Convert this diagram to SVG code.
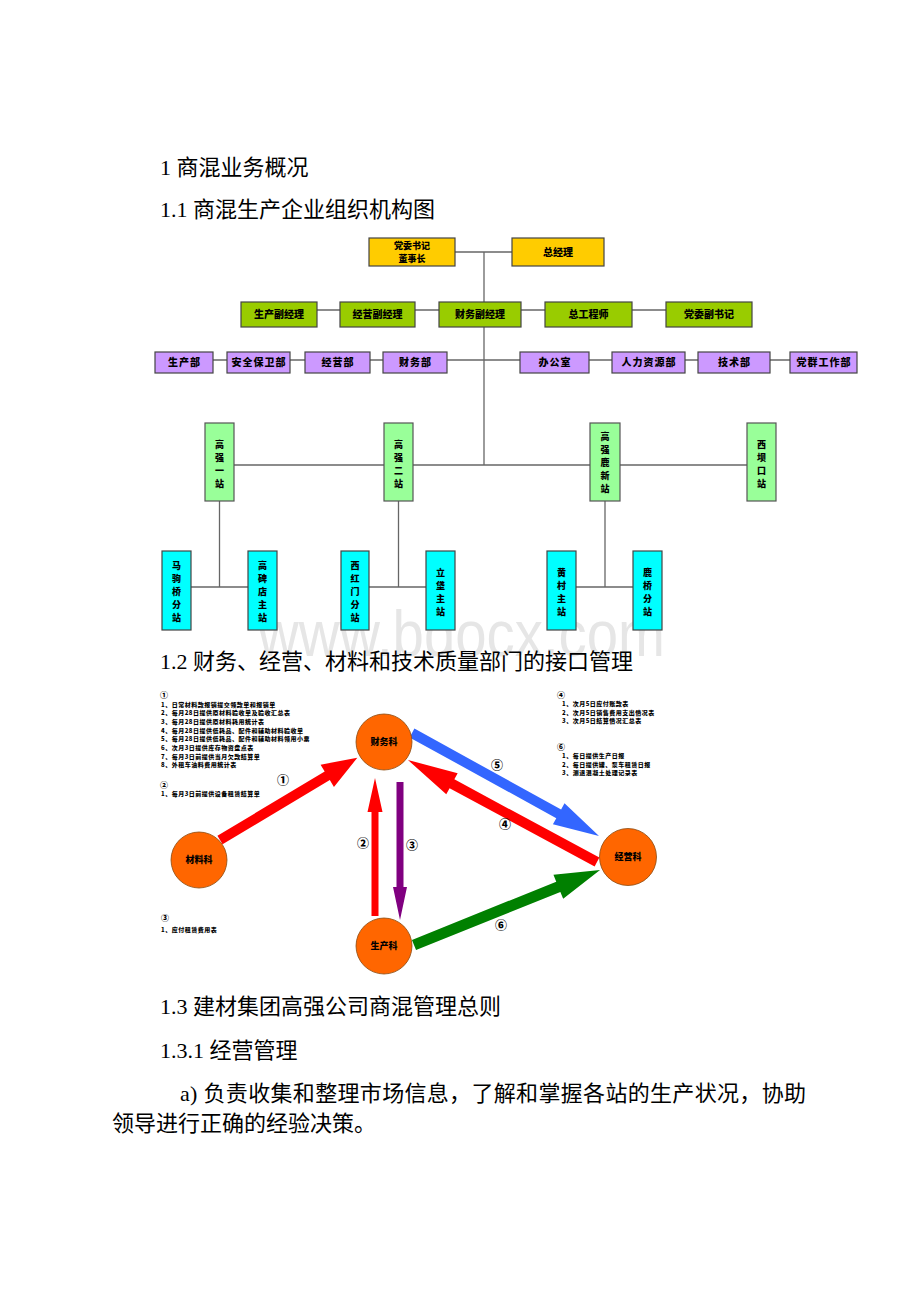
<svg xmlns="http://www.w3.org/2000/svg" width="920" height="1302" viewBox="0 0 920 1302">
<style>
.h{font-family:"Liberation Serif","Noto Sans CJK SC",serif;font-size:22px;fill:#000}
.b{font-family:"Noto Sans CJK SC",sans-serif;font-weight:900;font-size:10px;fill:#000;text-anchor:middle}
.b9{font-family:"Noto Sans CJK SC",sans-serif;font-weight:900;font-size:9px;fill:#000;text-anchor:middle}
.bs{font-family:"Noto Sans CJK SC",sans-serif;font-weight:900;font-size:10px;fill:#000;text-anchor:middle;letter-spacing:1px}
.v{font-family:"Noto Sans CJK SC",sans-serif;font-weight:900;font-size:9px;fill:#000;text-anchor:middle}
.s{font-family:"Noto Sans CJK SC",sans-serif;font-weight:900;font-size:6px;fill:#000;letter-spacing:0.5px}
.n{font-family:"Noto Sans CJK SC",sans-serif;font-weight:900;font-size:8px;fill:#000}
.lbl{font-family:"Noto Sans CJK SC",sans-serif;font-weight:900;font-size:12px;fill:#000;text-anchor:middle}
.c{font-family:"Noto Sans CJK SC",sans-serif;font-weight:900;font-size:9px;fill:#000;text-anchor:middle}
.y{fill:#FFCC00;stroke:#444;stroke-width:1.2}
.g{fill:#99CC00;stroke:#444;stroke-width:1.2}
.p{fill:#CC99FF;stroke:#444;stroke-width:1.2}
.lg{fill:#99FF99;stroke:#555;stroke-width:1.2}
.cy{fill:#00FFFF;stroke:#444;stroke-width:1.2}
.ln{stroke:#666;stroke-width:1.3;fill:none}
.circ{fill:#FF6600;stroke:#8a4a10;stroke-width:0.8}
</style>

<text x="258" y="656" font-family="Liberation Sans,Arial,sans-serif" font-size="64" fill="#e6e6e6" textLength="407" lengthAdjust="spacingAndGlyphs">www.bdocx.com</text>

<text class="h" x="160" y="175">1 商混业务概况</text>
<text class="h" x="160" y="217">1.1 商混生产企业组织机构图</text>
<text class="h" x="160" y="669">1.2 财务、经营、材料和技术质量部门的接口管理</text>
<text class="h" x="160" y="1014">1.3 建材集团高强公司商混管理总则</text>
<text class="h" x="160" y="1058">1.3.1 经营管理</text>
<text class="h" x="180" y="1101" textLength="626" lengthAdjust="spacing">a) 负责收集和整理市场信息，了解和掌握各站的生产状况，协助</text>
<text class="h" x="112" y="1131">领导进行正确的经验决策。</text>

<g id="connectors">
<line class="ln" x1="455" y1="252" x2="512" y2="252"/>
<line class="ln" x1="484" y1="252" x2="484" y2="465"/>
<line class="ln" x1="241" y1="310" x2="752" y2="310"/>
<line class="ln" x1="155" y1="360" x2="857" y2="360"/>
<line class="ln" x1="205" y1="465" x2="776" y2="465"/>
<line class="ln" x1="219.5" y1="501" x2="219.5" y2="587"/>
<line class="ln" x1="191" y1="587" x2="248" y2="587"/>
<line class="ln" x1="398.5" y1="501" x2="398.5" y2="587"/>
<line class="ln" x1="369" y1="587" x2="426" y2="587"/>
<line class="ln" x1="605" y1="501" x2="605" y2="587"/>
<line class="ln" x1="576" y1="587" x2="633" y2="587"/>
</g>

<g id="n-dwsj"><rect class="y" x="369" y="238" width="86" height="28"/><text class="b9" x="412" y="248.8">党委书记</text><text class="b9" x="412" y="261.8">董事长</text></g>
<g id="n-zjl"><rect class="y" x="512" y="238" width="92" height="28"/><text class="b" x="558" y="255.5">总经理</text></g>

<g id="n-scfjl"><rect class="g" x="241" y="302" width="76" height="25"/><text class="b" x="279" y="318">生产副经理</text></g>
<g id="n-jyfjl"><rect class="g" x="340" y="302" width="75" height="25"/><text class="b" x="377.5" y="318">经营副经理</text></g>
<g id="n-cwfjl"><rect class="g" x="439" y="302" width="82" height="25"/><text class="b" x="480" y="318">财务副经理</text></g>
<g id="n-zgcs"><rect class="g" x="545" y="302" width="87" height="25"/><text class="b" x="588.5" y="318">总工程师</text></g>
<g id="n-dwfsj"><rect class="g" x="666" y="302" width="86" height="25"/><text class="b" x="709" y="318">党委副书记</text></g>

<g id="n-scb"><rect class="p" x="155" y="352" width="58" height="21"/><text class="bs" x="184.5" y="366">生产部</text></g>
<g id="n-aqbwb"><rect class="p" x="227" y="352" width="63" height="21"/><text class="bs" x="259" y="366">安全保卫部</text></g>
<g id="n-jyb"><rect class="p" x="305" y="352" width="65" height="21"/><text class="bs" x="338" y="366">经营部</text></g>
<g id="n-cwb"><rect class="p" x="383" y="352" width="64" height="21"/><text class="bs" x="415.5" y="366">财务部</text></g>
<g id="n-bgs"><rect class="p" x="520" y="352" width="69" height="21"/><text class="bs" x="555" y="366">办公室</text></g>
<g id="n-rlzyb"><rect class="p" x="612" y="352" width="73" height="21"/><text class="bs" x="649" y="366">人力资源部</text></g>
<g id="n-jsb"><rect class="p" x="698" y="352" width="72" height="21"/><text class="bs" x="734.5" y="366">技术部</text></g>
<g id="n-dqgzb"><rect class="p" x="790" y="352" width="67" height="21"/><text class="bs" x="824" y="366">党群工作部</text></g>

<g id="n-gq1"><rect class="lg" x="205" y="423" width="29" height="78"/>
<text class="v" x="219.5" y="447.5">高</text><text class="v" x="219.5" y="460.5">强</text><text class="v" x="219.5" y="473.5">一</text><text class="v" x="219.5" y="486.5">站</text></g>
<g id="n-gq2"><rect class="lg" x="384" y="423" width="29" height="78"/>
<text class="v" x="398.5" y="447.5">高</text><text class="v" x="398.5" y="460.5">强</text><text class="v" x="398.5" y="473.5">二</text><text class="v" x="398.5" y="486.5">站</text></g>
<g id="n-gq3"><rect class="lg" x="590" y="423" width="30" height="78"/>
<text class="v" x="605" y="439.5">高</text><text class="v" x="605" y="452.5">强</text><text class="v" x="605" y="465.5">鹿</text><text class="v" x="605" y="478.5">新</text><text class="v" x="605" y="491.5">站</text></g>
<g id="n-xbk"><rect class="lg" x="747" y="423" width="29" height="78"/>
<text class="v" x="761.5" y="447.5">西</text><text class="v" x="761.5" y="460.5">坝</text><text class="v" x="761.5" y="473.5">口</text><text class="v" x="761.5" y="486.5">站</text></g>

<g id="n-mjq"><rect class="cy" x="162" y="551" width="29" height="79"/>
<text class="v" x="176.5" y="568.5">马</text><text class="v" x="176.5" y="581.5">驹</text><text class="v" x="176.5" y="594.5">桥</text><text class="v" x="176.5" y="607.5">分</text><text class="v" x="176.5" y="620.5">站</text></g>
<g id="n-gbd"><rect class="cy" x="248" y="551" width="29" height="79"/>
<text class="v" x="262.5" y="568.5">高</text><text class="v" x="262.5" y="581.5">碑</text><text class="v" x="262.5" y="594.5">店</text><text class="v" x="262.5" y="607.5">主</text><text class="v" x="262.5" y="620.5">站</text></g>
<g id="n-xhm"><rect class="cy" x="341" y="551" width="28" height="79"/>
<text class="v" x="355" y="568.5">西</text><text class="v" x="355" y="581.5">红</text><text class="v" x="355" y="594.5">门</text><text class="v" x="355" y="607.5">分</text><text class="v" x="355" y="620.5">站</text></g>
<g id="n-lf"><rect class="cy" x="426" y="551" width="29" height="79"/>
<text class="v" x="440.5" y="575.5">立</text><text class="v" x="440.5" y="588.5">垡</text><text class="v" x="440.5" y="601.5">主</text><text class="v" x="440.5" y="614.5">站</text></g>
<g id="n-hc"><rect class="cy" x="547" y="551" width="29" height="79"/>
<text class="v" x="561.5" y="575.5">黄</text><text class="v" x="561.5" y="588.5">村</text><text class="v" x="561.5" y="601.5">主</text><text class="v" x="561.5" y="614.5">站</text></g>
<g id="n-lq"><rect class="cy" x="633" y="551" width="29" height="79"/>
<text class="v" x="647.5" y="575.5">鹿</text><text class="v" x="647.5" y="588.5">桥</text><text class="v" x="647.5" y="601.5">分</text><text class="v" x="647.5" y="614.5">站</text></g>

<g id="arrows">
<path fill="#FF0000" transform="translate(220,840) rotate(-30.9)" d="M0,-5 H125 V-13 L160,0 L125,13 V5 H0 Z"/>
<path fill="#3366FF" transform="translate(412,733) rotate(28.85)" d="M0,-5 H167.5 V-12 L213.5,0 L167.5,12 V5 H0 Z"/>
<path fill="#FF0000" transform="translate(597,862) rotate(208.35)" d="M0,-5 H164.8 V-12 L214.8,0 L164.8,12 V5 H0 Z"/>
<path fill="#FF0000" transform="translate(375,916) rotate(-90)" d="M0,-3.5 H104 V-7.5 L138,0 L104,7.5 V3.5 H0 Z"/>
<path fill="#800080" transform="translate(400,782) rotate(90)" d="M0,-3.5 H105 V-7 L138,0 L105,7 V3.5 H0 Z"/>
<path fill="#008000" transform="translate(414,945) rotate(-21.96)" d="M0,-5.5 H155.6 V-13 L200.6,0 L155.6,13 V5.5 H0 Z"/>
</g>

<g id="n-cwk"><circle class="circ" cx="384" cy="742" r="28"/><text class="c" x="384" y="745">财务科</text></g>
<g id="n-clk"><circle class="circ" cx="199" cy="860" r="28"/><text class="c" x="199" y="863">材料科</text></g>
<g id="n-jyk"><circle class="circ" cx="628" cy="857" r="28.5"/><text class="c" x="628" y="860">经营科</text></g>
<g id="n-sck"><circle class="circ" cx="384" cy="946" r="28"/><text class="c" x="384" y="949">生产科</text></g>

<g id="arrow-labels">
<text class="lbl" x="283" y="785">①</text>
<text class="lbl" x="363" y="847.5">②</text>
<text class="lbl" x="412" y="849.5">③</text>
<text class="lbl" x="505" y="829">④</text>
<text class="lbl" x="497" y="770">⑤</text>
<text class="lbl" x="501" y="929.5">⑥</text>
</g>

<g id="notes-1">
<text class="n" x="160" y="698">①</text>
<text class="s" x="161" y="706.5">1、日常材料款报销提交领款单和报销单</text>
<text class="s" x="161" y="715.2">2、每月28日提供原材料验收单及验收汇总表</text>
<text class="s" x="161" y="723.9">3、每月28日提供原材料耗用统计表</text>
<text class="s" x="161" y="732.6">4、每月28日提供低耗品、配件和辅助材料验收单</text>
<text class="s" x="161" y="741.3">5、每月28日提供低耗品、配件和辅助材料领用小票</text>
<text class="s" x="161" y="750">6、次月3日提供库存物资盘点表</text>
<text class="s" x="161" y="758.7">7、每月3日前提供当月欠款结算单</text>
<text class="s" x="161" y="767.4">8、外租车油料费用统计表</text>
</g>
<g id="notes-2">
<text class="n" x="160" y="787.5">②</text>
<text class="s" x="161" y="796">1、每月3日前提供设备租赁结算单</text>
</g>
<g id="notes-3">
<text class="n" x="161" y="920.5">③</text>
<text class="s" x="161" y="931.5">1、应付租赁费用表</text>
</g>
<g id="notes-4">
<text class="n" x="557" y="697.5">④</text>
<text class="s" x="562" y="706">1、次月5日应付账款表</text>
<text class="s" x="562" y="714.7">2、次月5日销售费用支出情况表</text>
<text class="s" x="562" y="723.4">3、次月5日结算情况汇总表</text>
</g>
<g id="notes-6">
<text class="n" x="557" y="749.5">⑥</text>
<text class="s" x="562" y="758">1、每日提供生产日报</text>
<text class="s" x="562" y="766.7">2、每日提供罐、泵车租赁日报</text>
<text class="s" x="562" y="775.4">3、测退混凝土处理记录表</text>
</g>
</svg>
